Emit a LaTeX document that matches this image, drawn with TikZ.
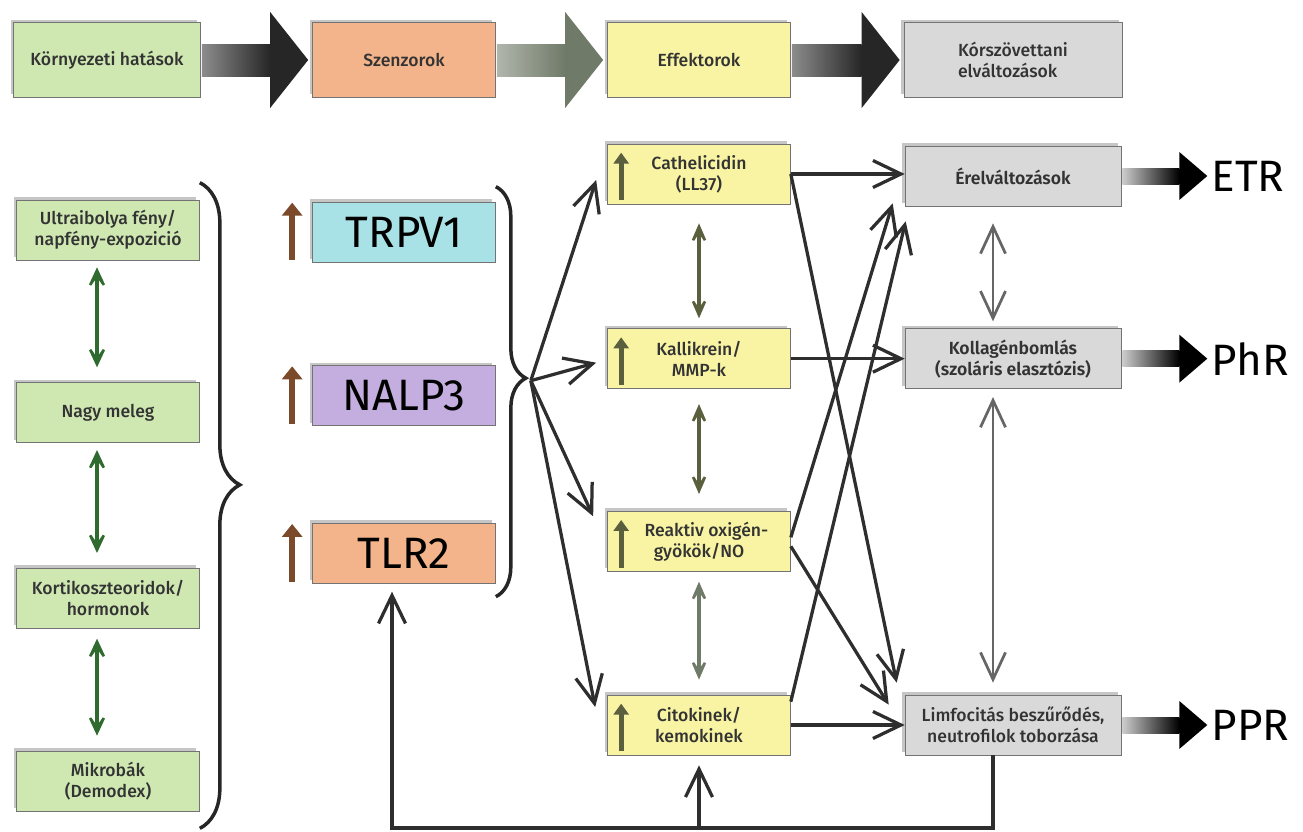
\documentclass[tikz,border=0pt]{standalone}
\usepackage{fontspec}
\setmainfont{Fira Sans}[UprightFont={* Medium}, BoldFont={* SemiBold}]
\newfontfamily\labelfont{Fira Sans}
\usetikzlibrary{arrows.meta}
\usetikzlibrary{positioning}
\usetikzlibrary{calc}
\usetikzlibrary{shadows}
\usetikzlibrary{decorations.pathreplacing}

\definecolor{boxgreen}{HTML}{CFE8B2}
\definecolor{boxorange}{HTML}{F3B48B}
\definecolor{boxyellow}{HTML}{F8F4A4}
\definecolor{boxgrey}{HTML}{D9D9D9}
\definecolor{boxcyan}{HTML}{A8E2E6}
\definecolor{boxpurple}{HTML}{C4AEDF}
\definecolor{arrowgreen}{HTML}{2F6B2E}
\definecolor{arrowolive}{HTML}{5A5F3E}
\definecolor{arrowsage}{HTML}{707A68}
\definecolor{arrowbrown}{HTML}{7A4A2B}
\definecolor{arrowgrey}{HTML}{666666}
\definecolor{arrowdark}{HTML}{2E2E2E}
\definecolor{textdark}{HTML}{333333}

\newcommand{\fatarrow}[7]{%
  \shade[left color=#3, right color=#4]
    ($(#1.east)+(1,#5)$) rectangle ($(#2.west)+(-#6-4,-#5)$);
  \fill[#4] ($(#2.west)+(-#6-4,#7)$) -- ($(#2.west)+(-4,0)$)
    -- ($(#2.west)+(-#6-4,-#7)$) -- cycle;
}

\tikzset{
    box/.style={
           rectangle,
           draw=black!55, thin,
           drop shadow={shadow xshift=-0.6mm, shadow yshift=0.6mm, opacity=0.45},
           minimum height=12mm,
           minimum width=36.6mm,
           inner sep=2pt,
           align=center,
           text=textdark,
           font=\fontsize{10}{12}\selectfont,
           },
     headbox/.style={
           box,
           minimum height=15mm,
           },
     bigbox/.style={
           box,
           text=black,
           font=\labelfont\fontsize{25}{30}\selectfont,
           },
     greybox/.style={
           box,
           fill=boxgrey,
           minimum width=43.2mm,
           },
     outlabel/.style={
           inner sep=0pt,
           font=\labelfont\fontsize{25}{30}\selectfont,
           },
     link/.style={
           -{Straight Barb[length=5.6mm,width=5.4mm]},
           line width=0.65mm, arrowdark,
           },
     pairgreen/.style={
           {Stealth[length=6mm,width=5.6mm,inset=4mm]}-{Stealth[length=6mm,width=5.6mm,inset=4mm]},
           line width=0.8mm, arrowgreen,
           },
     pairolive/.style={
           {Stealth[length=6mm,width=5.2mm,inset=4mm]}-{Stealth[length=6mm,width=5.2mm,inset=4mm]},
           line width=0.75mm, arrowolive,
           },
     pairgrey/.style={
           {Straight Barb[length=5.4mm,width=5mm]}-{Straight Barb[length=5.4mm,width=5mm]},
           line width=0.55mm, arrowgrey,
           },
     upbrown/.style={
           -{Triangle[length=2.6mm,width=4mm]},
           line width=1.2mm, arrowbrown,
           },
     upolive/.style={
           -{Triangle[length=2.2mm,width=3mm]},
           line width=1mm, arrowolive,
           },
     fbline/.style={
           line width=0.65mm, arrowdark,
           },
     bracket/.style={
           decorate,
           line width=0.7mm, black!85,
           },
}

\begin{document}
\begin{tikzpicture}[x=0.02cm, y=-0.02cm]
	\useasboundingbox (0,0) rectangle (1303,832);

	% environmental factors
	\node[box, fill=boxgreen] (uv) at (108,230) {Ultraibolya fény/\\napfény-expozició};
	\node[box, fill=boxgreen, below=24.4mm of uv] (heat) {Nagy meleg};
	\node[box, fill=boxgreen, below=25mm of heat] (cort) {Kortikoszteoridok/\\hormonok};
	\node[box, fill=boxgreen, below=24.4mm of cort] (micro) {Mikrobák\\(Demodex)};

	% sensors
	\node[bigbox, fill=boxcyan] (trpv) at (404,232) {TRPV1};
	\node[bigbox, fill=boxpurple, below=20.6mm of trpv] (nalp) {NALP3};
	\node[bigbox, fill=boxorange, below=19.4mm of nalp] (tlr) {TLR2};

	% effectors
	\node[box, fill=boxyellow] (cath) at (699,174) {Cathelicidin\\(LL37)};
	\node[box, fill=boxyellow, below=24.8mm of cath] (kall) {Kallikrein/\\MMP-k};
	\node[box, fill=boxyellow, below=24.4mm of kall] (reak) {\hspace*{3mm}Reaktiv oxigén-\\gyökök/NO};
	\node[box, fill=boxyellow, below=24.6mm of reak] (cito) {Citokinek/\\kemokinek};

	% tissue changes
	\node[greybox, font=\fontsize{10}{12}\selectfont\bfseries] (er) at (1013,176) {Érelváltozások};
	\node[greybox, font=\fontsize{10}{12}\selectfont\bfseries, below=24.4mm of er] (koll) {Kollagénbomlás\\(szoláris elasztózis)};
	\node[greybox] (limf) at (er |- cito) {Limfocitás beszűrődés,\\neutrofilok toborzása};

	\node[outlabel, right=18mm of er] (etr) {ETR};
	\node[outlabel, right=18mm of koll] (phr) {PhR};
	\node[outlabel, right=18mm of limf] (ppr) {PPR};

	% header row
	\node[headbox, fill=boxgreen, minimum width=37.4mm] (env) at (107,60) {Környezeti hatások};
	\node[headbox, fill=boxorange] (szen) at (trpv |- env) {Szenzorok};
	\node[headbox, fill=boxyellow] (eff) at (cath |- env) {Effektorok};
	\node[headbox, fill=boxgrey, minimum width=43.6mm, align=left] (korsz) at (er |- env) {Kórszövettani\\elváltozások};

	\fatarrow{env}{szen}{black!45}{black!85}{16}{38}{48}
	\fatarrow{szen}{eff}{arrowsage!55}{arrowsage}{16}{38}{48}
	\fatarrow{eff}{korsz}{black!45}{black!85}{16}{38}{48}

	\fatarrow{er}{etr}{black!20}{black}{8}{28}{24}
	\fatarrow{koll}{phr}{black!20}{black}{8}{28}{24}
	\fatarrow{limf}{ppr}{black!20}{black}{8}{28}{24}

	% braces
	\draw[bracket, decoration={brace, amplitude=8mm, aspect=0.468}]
		([yshift=3.4mm]uv.north east) -- ([yshift=-3.4mm]micro.south east);
	\draw[bracket, decoration={brace, amplitude=6mm, aspect=0.467}]
		([yshift=3mm]trpv.north east) -- ([yshift=-2.6mm]tlr.south east);
	\coordinate (fork) at ([xshift=7mm,yshift=3mm]nalp.east);

	% up marks
	\draw[upbrown] ([xshift=-4mm,yshift=0.4mm]trpv.south west) -- ([xshift=-4mm,yshift=-0.2mm]trpv.north west);
	\draw[upbrown] ([xshift=-4mm,yshift=0.4mm]nalp.south west) -- ([xshift=-4mm,yshift=-0.2mm]nalp.north west);
	\draw[upbrown] ([xshift=-4mm,yshift=0.4mm]tlr.south west) -- ([xshift=-4mm,yshift=-0.2mm]tlr.north west);
	\draw[upolive] ([xshift=2.8mm,yshift=0.8mm]cath.south west) -- ([xshift=2.8mm,yshift=-1.8mm]cath.north west);
	\draw[upolive] ([xshift=2.8mm,yshift=0.8mm]kall.south west) -- ([xshift=2.8mm,yshift=-1.8mm]kall.north west);
	\draw[upolive] ([xshift=2.8mm,yshift=0.8mm]reak.south west) -- ([xshift=2.8mm,yshift=-1.8mm]reak.north west);
	\draw[upolive] ([xshift=2.8mm,yshift=0.8mm]cito.south west) -- ([xshift=2.8mm,yshift=-1.8mm]cito.north west);

	% two-way links
	\path[pairgreen, shorten <=1.4mm, shorten >=3mm]	([xshift=-2.2mm]uv.south) edge ([xshift=-2.2mm]heat.north)
								([xshift=-2.2mm]heat.south) edge ([xshift=-2.2mm]cort.north);
	\path[pairgreen, shorten <=2mm, shorten >=3mm]	([xshift=-2.2mm]cort.south) edge ([xshift=-2.2mm]micro.north);
	\path[pairolive, shorten <=3.8mm, shorten >=2mm]	(cath) edge (kall);
	\path[pairolive, shorten <=3mm, shorten >=3.4mm]	(kall) edge (reak);
	\path[pairolive, arrowsage, shorten <=2mm, shorten >=3mm]	(reak) edge (cito);
	\path[pairgrey, shorten <=3.4mm, shorten >=1.4mm]	([xshift=-4mm]er.south) edge ([xshift=-4mm]koll.north);
	\path[pairgrey, shorten <=1.6mm, shorten >=2.4mm]	([xshift=-4mm]koll.south) edge ([xshift=-4mm]limf.north);

	% sensors to effectors
	\draw[link] (fork) -- ([xshift=-2.2mm,yshift=-1.2mm]cath.west);
	\draw[link] (fork) -- ([xshift=-2.2mm,yshift=-0.8mm]kall.west);
	\draw[link] (fork) -- ([xshift=-2.8mm,yshift=5mm]reak.west);
	\draw[link] (fork) -- ([xshift=-2.4mm,yshift=3.6mm]cito.west);

	% effectors to tissue changes
	\draw[link] (cath.east) -- (cath.east -| er.west);
	\draw[link] (cath.east) -- ([xshift=-1.6mm,yshift=2.4mm]limf.north west);
	\draw[link] (kall.east) -- (kall.east -| koll.west);
	\draw[link] ([yshift=0.8mm]reak.east) -- ([xshift=-2.4mm,yshift=0.6mm]er.south west);
	\draw[link] ([yshift=-1mm]reak.east) -- ([xshift=-3.2mm,yshift=-2mm]limf.north west);
	\draw[link] ([yshift=-1.4mm]cito.north east) -- ([xshift=0.2mm,yshift=-3mm]er.south west);
	\draw[link] (cito.east) -- (cito.east -| limf.west);

	% feedback
	\coordinate (base) at (0,828);
	\draw[fbline, -{Straight Barb[length=5.6mm,width=5.4mm]}, shorten >=1.6mm]
		([xshift=-4mm]limf.south) -- ([xshift=-4mm]limf.south |- base) -| ([xshift=-2.4mm]tlr.south);
	\draw[fbline, -{Straight Barb[length=5.6mm,width=5.4mm]}, shorten >=2mm]
		(cito.south |- base) -- (cito.south);

\end{tikzpicture}
\end{document}
